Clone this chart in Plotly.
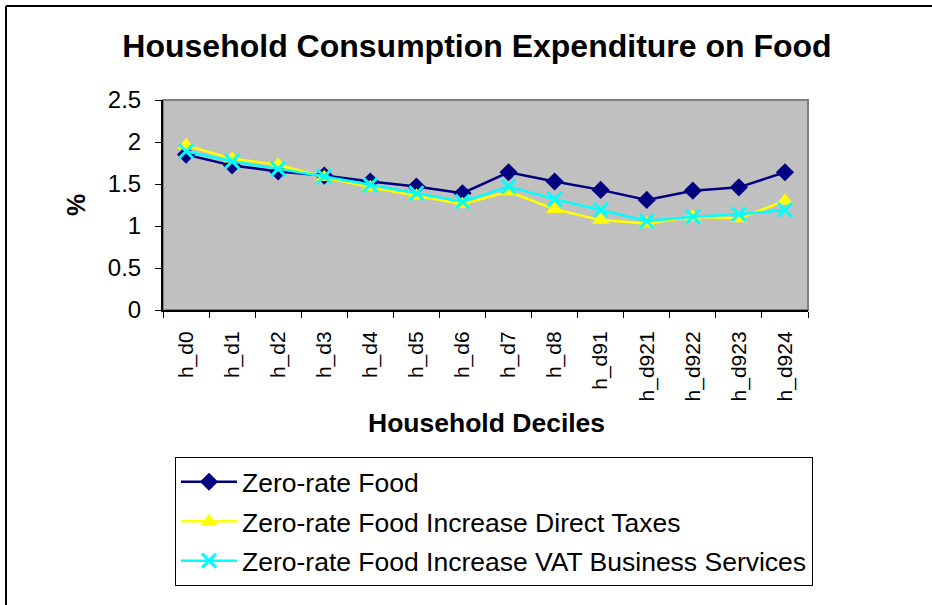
import plotly.graph_objects as go

categories = ["h_d0", "h_d1", "h_d2", "h_d3", "h_d4", "h_d5", "h_d6", "h_d7",
              "h_d8", "h_d91", "h_d921", "h_d922", "h_d923", "h_d924"]
zero_rate_food = [1.85, 1.72, 1.65, 1.60, 1.53, 1.47, 1.39, 1.64, 1.53, 1.43, 1.31, 1.42, 1.46, 1.64]
increase_direct_taxes = [1.96, 1.80, 1.73, 1.58, 1.46, 1.36, 1.26, 1.41, 1.20, 1.07, 1.03, 1.11, 1.09, 1.30]
increase_vat_business = [1.89, 1.77, 1.68, 1.59, 1.49, 1.39, 1.29, 1.47, 1.32, 1.19, 1.06, 1.11, 1.14, 1.19]
series_names = ["Zero-rate Food", "Zero-rate Food Increase Direct Taxes",
                "Zero-rate Food Increase VAT Business Services"]
y_ticks = [0, 0.5, 1, 1.5, 2, 2.5]
y_tick_labels = ["0", "0.5", "1", "1.5", "2", "2.5"]

FONT = "Liberation Sans, Arial, sans-serif"

fig = go.Figure()
fig.add_trace(go.Scatter(
    x=categories, y=zero_rate_food, name=series_names[0], mode="lines+markers",
    line=dict(color="#000080", width=2.5),
    marker=dict(symbol="diamond", size=14, color="#000080"),
    legendgroup="a"))
fig.add_trace(go.Scatter(
    x=categories, y=increase_direct_taxes, name=series_names[1], mode="lines+markers",
    line=dict(color="#FFFF00", width=2.5),
    marker=dict(symbol="triangle-up", size=15, color="#FFFF00"),
    legendgroup="b"))
fig.add_trace(go.Scatter(
    x=categories, y=increase_vat_business, name=series_names[2], mode="lines+markers",
    line=dict(color="#00FFFF", width=2.5),
    marker=dict(symbol="x-thin", size=14, color="#00FFFF",
                line=dict(color="#00FFFF", width=3)),
    legendgroup="c"))

fig.update_layout(
    width=932, height=605,
    margin=dict(l=163, r=124, t=100, b=295),
    paper_bgcolor="white", plot_bgcolor="#C0C0C0",
    font=dict(family=FONT, color="black"),
    title=dict(text="<b>Household Consumption Expenditure on Food</b>",
               font=dict(size=32, family=FONT, color="black"),
               x=(477 - 163) / 645, xref="paper", xanchor="center", y=1 - 46 / 605,
               yanchor="middle"),
    showlegend=True,
    legend=dict(x=(175 - 163) / 645, y=-(457 - 310) / 210, xanchor="left", yanchor="top",
                bordercolor="black", borderwidth=1, bgcolor="white",
                font=dict(size=26.5, family=FONT, color="black"),
                tracegroupgap=2, itemwidth=56),
    xaxis=dict(type="category", showgrid=False, showline=True, linecolor="black", linewidth=2,
               ticks="outside", tickson="boundaries", ticklen=6, tickcolor="black",
               tickangle=-90, tickfont=dict(size=21, family=FONT, color="black"),
               ticklabelstandoff=11,
               range=[-0.5, len(categories) - 0.5], zeroline=False),
    yaxis=dict(range=[0, 2.5], tickvals=y_ticks, ticktext=y_tick_labels, showgrid=False,
               showline=True, linecolor="black", linewidth=2, ticks="outside", ticklen=6,
               tickcolor="black", tickfont=dict(size=24, family=FONT, color="black"),
               ticklabelstandoff=9, zeroline=False),
    shapes=[
        dict(type="rect", xref="x domain", yref="y domain", x0=0, x1=1, y0=0, y1=1,
             line=dict(color="#808080", width=2), layer="below"),
        dict(type="line", xref="paper", yref="paper",
             x0=(6 - 163) / 645, x1=(6 - 163) / 645, y0=-(640 - 310) / 210, y1=(310 - 6) / 210,
             line=dict(color="black", width=2)),
        dict(type="line", xref="paper", yref="paper",
             x0=(6 - 163) / 645, x1=(960 - 163) / 645, y0=(310 - 6) / 210, y1=(310 - 6) / 210,
             line=dict(color="black", width=2)),
    ],
    annotations=[
        dict(text="<b>Household Deciles</b>", xref="paper", yref="paper",
             x=(486 - 163) / 645, y=-(423 - 310) / 210, xanchor="center", yanchor="middle",
             showarrow=False, font=dict(size=26.5, family=FONT, color="black")),
        dict(text="<b>%</b>", xref="paper", yref="paper",
             x=-(163 - 76) / 645, y=(310 - 205) / 210, xanchor="center", yanchor="middle",
             textangle=-90, showarrow=False, font=dict(size=25, family=FONT, color="black")),
    ],
)

fig.write_html("out.html", config={"displayModeBar": False},
               post_script="document.body.style.margin='0';document.body.style.overflow='hidden';")
